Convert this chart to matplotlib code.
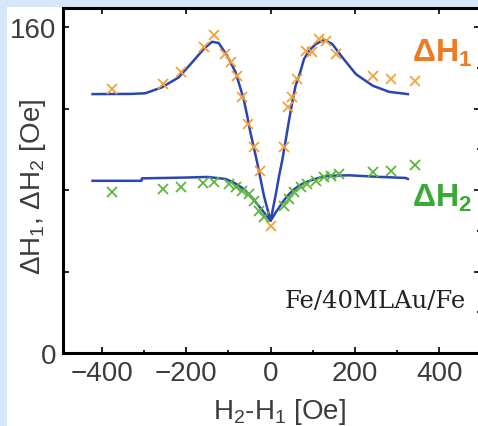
import matplotlib
matplotlib.use("Agg")
import matplotlib.pyplot as plt
from matplotlib.patches import Rectangle

plt.rcParams['font.family'] = ['Liberation Sans', 'DejaVu Sans']
plt.rcParams['mathtext.default'] = 'regular'

# measured points, dH1 (orange)
h1_x = [-377, -254, -212, -159, -135, -107, -93, -79, -67, -53, -40, -26, 0,
        32, 42, 51, 63, 83, 99, 115, 131, 155, 242, 286, 341]
h1_y = [129.7, 132.1, 137.9, 150.1, 156.2, 146.9, 142.8, 136.2, 125.6, 112.5, 101, 89.5, 62.5,
        101, 120.7, 125.6, 134.6, 148.5, 147.7, 154.2, 153.4, 146.9, 136.2, 134.6, 133.4]

# measured points, dH2 (green)
h2_x = [-377, -254, -212, -161, -135, -99, -83, -67, -52, -40, -28, -16,
        32, 44, 55, 71, 87, 107, 127, 143, 163, 242, 285, 341]
h2_y = [79.2, 80.5, 81.4, 83.5, 83.8, 83.0, 81.4, 79.7, 78.1, 74.8, 69.9, 67.0,
        72.3, 75.6, 78.9, 81.4, 83.0, 84.6, 86.3, 87.1, 87.9, 89.0, 89.5, 92.3]

# fitted curves
fit1_x = [-422, -330, -297, -258, -218, -186, -159, -139, -123, -103, -83, -64, -56, -48,
          -40, -32, -24, -16, -8, 0, 6, 13, 20, 28, 36, 44, 52, 59, 68, 79, 91, 107,
          127, 146, 170, 202, 242, 281, 325]
fit1_y = [127.2, 127.3, 127.6, 130.5, 135.4, 142.8, 149.3, 152.9, 152.3, 146.0, 137.9, 124.8, 117.0, 108.4,
          101.0, 93.7, 85.5, 77.3, 71.0, 65.0, 71.5, 78.9, 87.0, 95.3, 105.0, 114.9, 124.0, 131.3, 136.5,
          144.4, 148.5, 151.8, 153.9, 151.8, 145.2, 137.0, 131.3, 128.3, 127.2]

fit2_x = [-422, -306, -305, -200, -150, -107, -90, -75, -62, -52, -42, -32, -24, -16, -8, 0,
          6, 12, 20, 28, 36, 44, 55, 67, 82, 99, 118, 139, 186, 260, 320, 325]
fit2_y = [84.6, 84.6, 85.8, 86.2, 86.5, 85.5, 84.0, 82.2, 80.3, 78.1, 75.8, 73.2, 71.2, 69.1, 67.0, 65.0,
          67.0, 69.1, 71.5, 74.0, 76.2, 78.1, 80.3, 82.2, 83.8, 85.1, 86.3, 87.1, 87.3, 86.5, 86.0, 85.5]

fig = plt.figure(figsize=(4.78, 4.27), dpi=100, facecolor='#d5e7fb')
fig.patches.append(Rectangle((7/478, 0), 1, 1 - 8/427, transform=fig.transFigure,
                             facecolor='white', edgecolor='none', zorder=-10))

ax = fig.add_axes([63/478, 1 - 354/427, (480 - 63)/478, (354 - 9)/427])
ax.set_facecolor('white')

ax.plot(fit1_x, fit1_y, color='#2b45b2', lw=1.8, zorder=3)
ax.plot(fit2_x, fit2_y, color='#2b45b2', lw=1.8, zorder=3)
ax.plot(h1_x, h1_y, 'x', color='#f2a23c', ms=7, mew=1.3, zorder=4)
ax.plot(h2_x, h2_y, 'x', color='#5cb83a', ms=7, mew=1.3, zorder=4)

ax.set_xlim(-492, 496)
ax.set_ylim(0, 169.5)
ax.set_xticks([-400, -200, 0, 200, 400])
ax.set_xticks([-300, -100, 100, 300], minor=True)
ax.set_yticks([0, 40, 80, 120, 160])
ax.set_yticklabels(['0', '', '', '', '160'])
ax.set_yticks([20, 60, 100, 140], minor=True)

for s in ax.spines.values():
    s.set_linewidth(2.2)
ax.tick_params(which='major', direction='in', length=4, width=1.2, top=True, right=True,
               labelsize=20, labelcolor='#3c3c3c', pad=5)
ax.tick_params(axis='x', which='minor', direction='in', length=2, width=1.2, top=False, bottom=True)
ax.tick_params(axis='y', which='minor', direction='in', length=2, width=1.2, left=False, right=True)

fig.text(280/478, 1 - 419/427, 'H$_2$-H$_1$ [Oe]', ha='center', va='baseline',
         fontsize=20, color='#3c3c3c')
fig.text(33/478, 1 - 187/427, 'ΔH$_1$, ΔH$_2$ [Oe]', ha='center', va='center',
         rotation=90, fontsize=20, color='#3c3c3c')

fig.text(412/478, 1 - 62/427, 'ΔH$_1$', ha='left', va='baseline', fontsize=23,
         fontweight='bold', color='#ee7a22')
fig.text(412/478, 1 - 207/427, 'ΔH$_2$', ha='left', va='baseline', fontsize=23,
         fontweight='bold', color='#3aaa35')
fig.text(285/478, 1 - 308/427, 'Fe/40MLAu/Fe', ha='left', va='baseline', fontsize=17.5,
         family='DejaVu Serif', color='#222222')

fig.savefig('out.png', dpi=100, facecolor=fig.get_facecolor())
